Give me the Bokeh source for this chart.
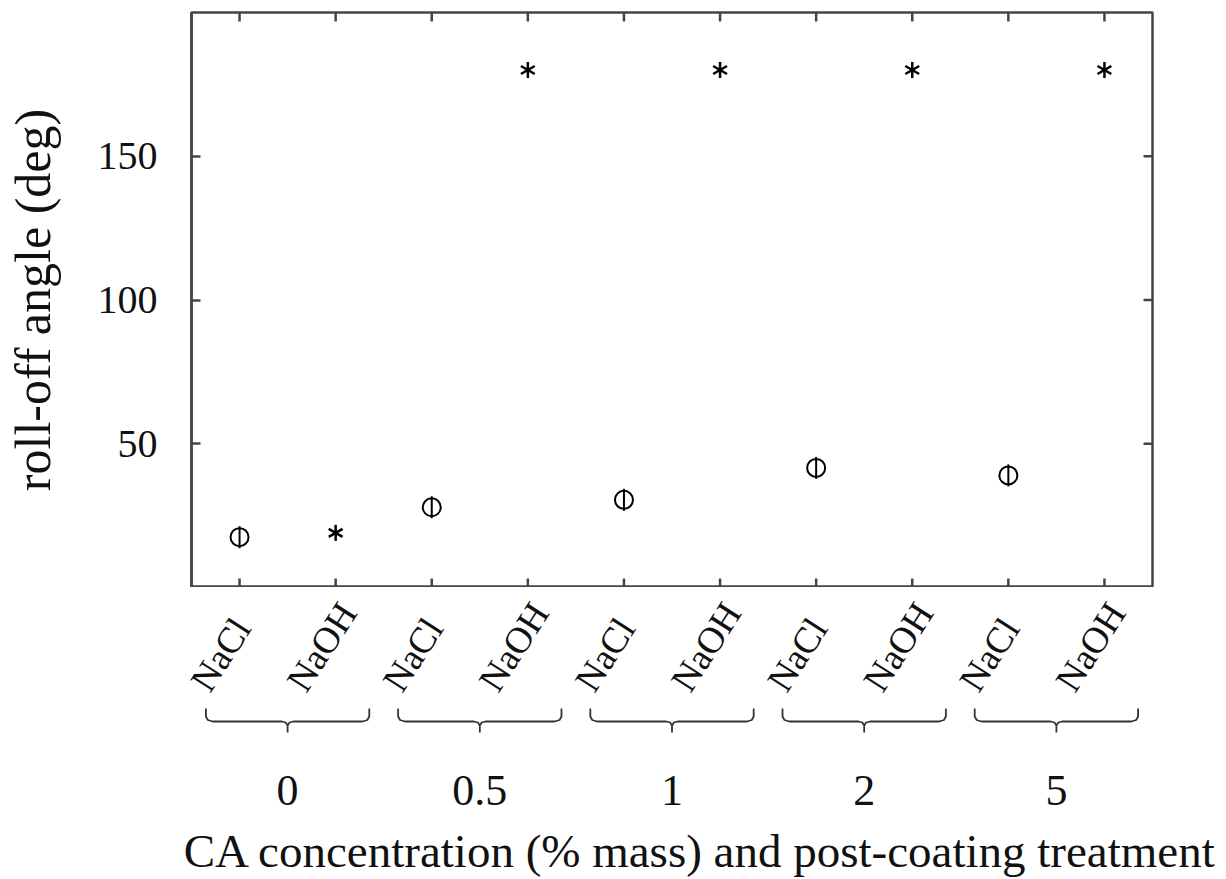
import math
from bokeh.plotting import figure
from bokeh.layouts import column, row
from bokeh.models import LinearAxis, FixedTicker, Range1d, ColumnDataSource
from bokeh.core.properties import value
from bokeh.embed import file_html
from bokeh.resources import INLINE

# ---- data ----
concentrations = ["0", "0.5", "1", "2", "5"]
treatments = ["NaCl", "NaOH"]
nacl_angle = [17.5, 27.9, 30.5, 41.6, 39.0]
naoh_angle = [19.0, 180.0, 180.0, 180.0, 180.0]
x_title = "CA concentration (% mass) and post-coating treatment"
y_title = "roll-off angle (deg)"
y_ticks = [50, 100, 150]

FONT = "Liberation Serif"
AX = "#454545"
TXT = "#111111"

n = len(concentrations)
nacl_x = [2 * i + 1 for i in range(n)]
naoh_x = [2 * i + 2 for i in range(n)]
tick_x = []
tick_lab = []
for i in range(n):
    tick_x += [nacl_x[i], naoh_x[i]]
    tick_lab += [treatments[0], treatments[1]]

W = 1226
TOTAL_H = 879
B_LEFT, B_RIGHT, B_TOP = 191, 74, 12
FRAME_H = 575
TOP_H = B_TOP + FRAME_H
X0, X1 = 0.5, 10.5
Y0, Y1 = 0, 200

p1 = figure(width=W, height=TOP_H, x_range=Range1d(X0, X1), y_range=Range1d(Y0, Y1),
            output_backend="svg", toolbar_location=None,
            min_border_left=B_LEFT, min_border_right=B_RIGHT,
            min_border_top=B_TOP, min_border_bottom=0,
            x_axis_location=None, y_axis_location=None)
p1.grid.visible = False
p1.outline_line_color = AX
p1.outline_line_width = 2.5
p1.background_fill_color = "white"
p1.border_fill_color = "white"

yl = LinearAxis(ticker=FixedTicker(ticks=y_ticks), axis_label=y_title)
yl.axis_line_color = AX
yl.axis_line_width = 2.5
yl.major_tick_line_color = AX
yl.major_tick_line_width = 2.5
yl.major_tick_in = 9
yl.major_tick_out = 0
yl.minor_tick_line_color = None
yl.major_label_text_font = FONT
yl.major_label_text_color = TXT
yl.major_label_text_font_size = "40px"
yl.major_label_standoff = 34
yl.axis_label_text_font = FONT
yl.axis_label_text_font_size = "50px"
yl.axis_label_text_font_style = "normal"
yl.axis_label_text_color = TXT
yl.axis_label_standoff = 34
p1.add_layout(yl, "left")

# inward ticks on the bottom, top and right edges of the frame
p1.ray(x=tick_x, y=[Y0] * len(tick_x), length=9, length_units="screen",
       angle=math.pi / 2, line_color=AX, line_width=2.5)
p1.ray(x=tick_x, y=[Y1] * len(tick_x), length=9, length_units="screen",
       angle=-math.pi / 2, line_color=AX, line_width=2.5)
p1.ray(x=[X1] * len(y_ticks), y=y_ticks, length=9, length_units="screen",
       angle=math.pi, line_color=AX, line_width=2.5)

src_nacl = ColumnDataSource(dict(x=nacl_x, y=nacl_angle))
src_naoh = ColumnDataSource(dict(x=naoh_x, y=naoh_angle))

# NaCl: circle with a vertical stroke
p1.scatter("x", "y", source=src_nacl, marker="circle", size=18, fill_color="white",
           line_color="black", line_width=2)
p1.scatter("x", "y", source=src_nacl, marker="dash", size=22, angle=math.pi / 2,
           line_color="black", line_width=2)
# NaOH: six-armed asterisk
for a in (math.pi / 2, math.pi / 6, -math.pi / 6):
    p1.scatter("x", "y", source=src_naoh, marker="dash", size=16, angle=a,
               line_color="black", line_width=2.5)

# ---- lower panel: tick labels, braces, group labels, axis title ----
BH = TOTAL_H - TOP_H
px_per_unit = (W - B_LEFT - B_RIGHT) / (X1 - X0)
bx0 = X0 - B_LEFT / px_per_unit
bx1 = X1 + B_RIGHT / px_per_unit
p2 = figure(width=W, height=BH, x_range=Range1d(bx0, bx1), y_range=Range1d(BH, 0),
            output_backend="svg", toolbar_location=None,
            min_border_left=0, min_border_right=0, min_border_top=0, min_border_bottom=0,
            x_axis_location=None, y_axis_location=None)
p2.grid.visible = False
p2.outline_line_color = None
p2.background_fill_color = "white"
p2.border_fill_color = "white"

# rotated treatment labels (anchored at their start, bottom-left)
lab_shift = 40 / px_per_unit
p2.text(x=[t - lab_shift for t in tick_x], y=[100] * len(tick_x), text=tick_lab,
        angle=1.0, text_font=value(FONT), text_font_size="37px",
        text_align="left", text_baseline="alphabetic", text_color=TXT)

centers = [(nacl_x[i] + naoh_x[i]) / 2 for i in range(n)]
h = 0.85
bxs, bys = [], []
for c in centers:
    xs = [c - h, c - h, c - h + 0.02, c - h + 0.07, c - 0.06, c - 0.02, c, c,
          c, c + 0.02, c + 0.06, c + h - 0.07, c + h - 0.02, c + h, c + h]
    ys = [121, 129, 132.5, 134, 134, 135, 138, 145, 138, 135, 134, 134, 132.5, 129, 121]
    bxs.append(xs)
    bys.append(ys)
p2.multi_line(bxs, bys, line_color="#333333", line_width=1.8)

p2.text(x=centers, y=[203] * n, text=concentrations, text_font=value(FONT),
        text_font_size="44px", text_align="center", text_baseline="middle",
        text_color=TXT)

title_x = X0 + (700 - B_LEFT) / px_per_unit
p2.text(x=[title_x], y=[263], text=[x_title], text_font=value(FONT),
        text_font_size="47px", text_align="center", text_baseline="middle",
        text_color=TXT)

layout = column(p1, row(p2), spacing=0)
open("out.html", "w").write(file_html(layout, INLINE))
